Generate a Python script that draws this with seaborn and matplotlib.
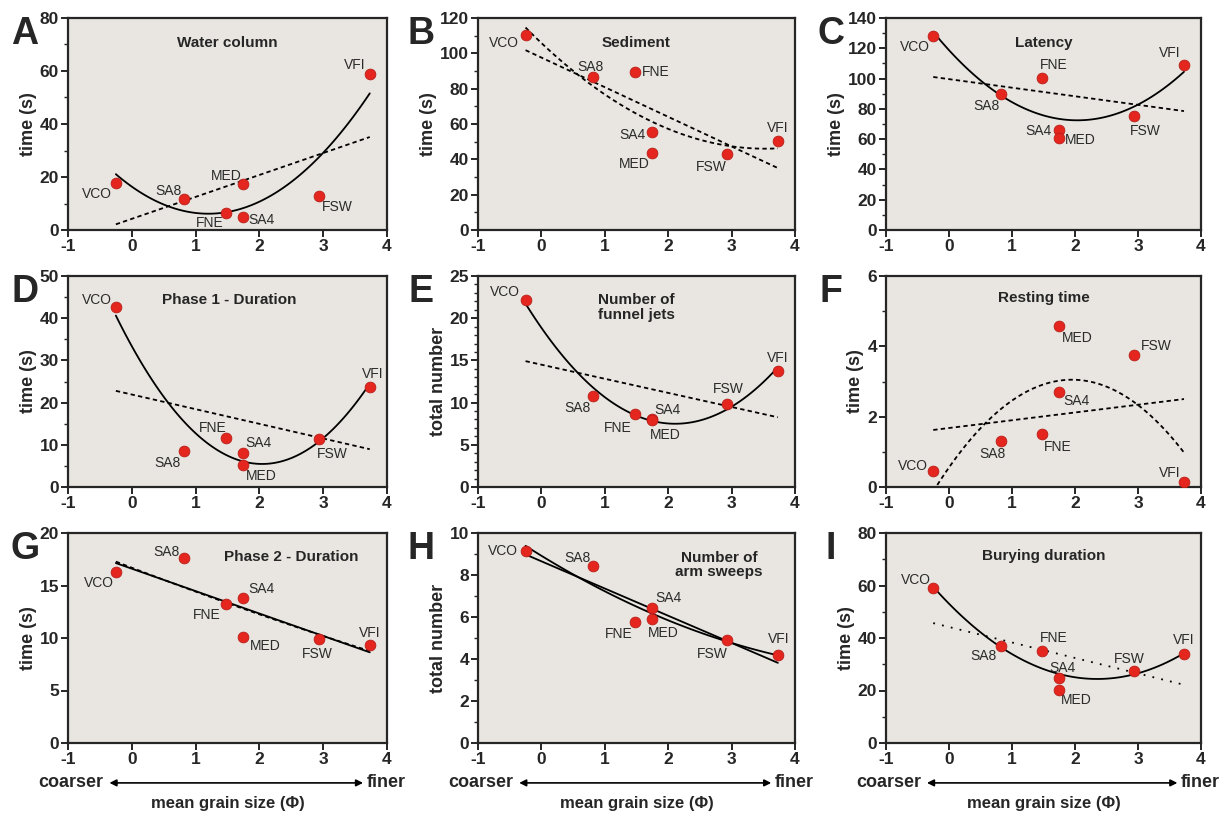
import numpy as np
import matplotlib
matplotlib.use('Agg')
from matplotlib import pyplot as plt
from matplotlib.ticker import MultipleLocator, NullLocator
import seaborn as sns

# sediment types and their mean grain size (phi)
sites = ['VCO', 'SA8', 'FNE', 'SA4', 'MED', 'FSW', 'VFI']
grain = [-0.25, 0.82, 1.47, 1.74, 1.74, 2.93, 3.73]

water_column = [17.8, 11.8, 6.3, 5.0, 17.4, 13.0, 59.0]
sediment = [110.5, 86.5, 89.5, 55.5, 43.5, 43.0, 50.5]
latency = [128.0, 89.5, 100.5, 66.0, 60.5, 75.0, 109.0]
phase1 = [42.7, 8.6, 11.7, 8.1, 5.1, 11.3, 23.6]
funnel_jets = [22.1, 10.8, 8.7, 8.0, 7.9, 9.8, 13.8]
resting = [0.45, 1.3, 1.5, 2.7, 4.58, 3.75, 0.15]
phase2 = [16.3, 17.6, 13.2, 13.8, 10.1, 9.9, 9.3]
arm_sweeps = [9.15, 8.42, 5.75, 6.42, 5.92, 4.92, 4.2]
burying = [59.0, 37.0, 35.0, 24.8, 20.2, 27.5, 34.0]

letters = ['A', 'B', 'C', 'D', 'E', 'F', 'G', 'H', 'I']
titles = ['Water column', 'Sediment', 'Latency', 'Phase 1 - Duration',
          'Number of\nfunnel jets', 'Resting time', 'Phase 2 - Duration',
          'Number of\narm sweeps', 'Burying duration']
ylabels = ['time (s)', 'time (s)', 'time (s)', 'time (s)', 'total number',
           'time (s)', 'time (s)', 'total number', 'time (s)']
values = [water_column, sediment, latency, phase1, funnel_jets,
          resting, phase2, arm_sweeps, burying]

# layout / style per panel
ymax = [80, 120, 140, 50, 25, 6, 20, 10, 80]
ymaj = [20, 20, 20, 10, 5, 2, 5, 2, 20]
ymin = [10, 10, 10, 5, 1, 1, None, 1, 10]
title_pos = [(0.5, 0.88), (0.5, 0.88), (0.5, 0.88), (0.505, 0.886), (0.5, 0.85),
             (0.5, 0.895), (0.70, 0.886), (0.76, 0.848), (0.5, 0.89)]
DASH = (0, (2.4, 1.8))
DOT = (0, (1.0, 4.0))
# (quadratic style, linear style)
fit_styles = [('-', DASH), (DASH, DASH), ('-', DASH), ('-', DASH), ('-', DASH),
              (DASH, DASH), (DASH, '-'), ('-', '-'), ('-', DOT)]
# label offsets in pixels (dx, dy up) per panel, per site
offsets = [
    [(-19, -11), (-16, 8), (-16, -10), (19, -3), (-17, 8), (19, -11), (-15, 9)],
    [(-22, -8), (-3, 10), (21, 0), (-19, -3), (-17, -11), (-16, -13), (0, 13)],
    [(-18, -11), (-14, -12), (12, 13), (-20, -1), (22, -2), (12, -15), (-14, 12)],
    [(-19, 7), (-17, -12), (-13, 10), (16, 10), (18, -11), (14, -15), (3, 13)],
    [(-21, 8), (-16, -12), (-17, -14), (16, 9), (14, -15), (1, 15), (0, 13)],
    [(-20, 5), (-8, -13), (16, -13), (18, -9), (19, -12), (23, 9), (-14, 9)],
    [(-17, -11), (-18, 6), (-19, -11), (19, 9), (22, -9), (-1, -15), (0, 12)],
    [(-23, 0), (-16, 8), (-16, -12), (17, 10), (12, -14), (-15, -14), (1, 16)],
    [(-17, 8), (-17, -10), (12, 13), (4, 10), (18, -10), (-4, 12), (0, 14)],
]

W, H = 1231, 814
DPI = 100
col_left = [68, 478, 886]
col_width = [319, 317, 315]
row_top = [18, 276, 533]
row_bottom = [230, 487, 743]
letter_x = [25, 421, 831]

sns.set_style('ticks')
plt.rcParams['font.family'] = ['Liberation Sans', 'DejaVu Sans']
plt.rcParams['font.weight'] = 'bold'
plt.rcParams['axes.linewidth'] = 1.6
plt.rcParams['axes.unicode_minus'] = False

fig = plt.figure(figsize=(W / DPI, H / DPI), dpi=DPI)
px = 72 / DPI

for i in range(9):
    r, c = divmod(i, 3)
    rect = [col_left[c] / W, 1 - row_bottom[r] / H,
            col_width[c] / W, (row_bottom[r] - row_top[r]) / H]
    ax = fig.add_axes(rect)
    ax.set_facecolor('#e9e6e1')
    y = values[i]

    q_ls, l_ls = fit_styles[i]
    sns.regplot(x=np.array(grain), y=np.array(y), order=2, ci=None, scatter=False,
                truncate=True, ax=ax, line_kws=dict(color='black', lw=1.3, ls=q_ls))
    sns.regplot(x=np.array(grain), y=np.array(y), order=1, ci=None, scatter=False,
                truncate=True, ax=ax, line_kws=dict(color='black', lw=1.3, ls=l_ls))
    sns.scatterplot(x=grain, y=y, ax=ax, s=60, color='#e5261f',
                    edgecolor='#b81e18', linewidth=0.6, zorder=5)

    for k, name in enumerate(sites):
        dx, dy = offsets[i][k]
        ax.annotate(name, (grain[k], y[k]), xytext=(dx * px, dy * px),
                    textcoords='offset points', ha='center', va='center',
                    fontsize=10, fontweight='normal', color='#2b2b2b')

    ax.text(title_pos[i][0], title_pos[i][1], titles[i], transform=ax.transAxes,
            ha='center', va='center', fontsize=11, fontweight='bold',
            linespacing=1.05)

    ax.set_xlim(-1, 4)
    ax.set_ylim(0, ymax[i])
    ax.xaxis.set_major_locator(MultipleLocator(1))
    ax.yaxis.set_major_locator(MultipleLocator(ymaj[i]))
    if ymin[i]:
        ax.yaxis.set_minor_locator(MultipleLocator(ymin[i]))
    else:
        ax.yaxis.set_minor_locator(NullLocator())
    ax.tick_params(which='major', direction='out', length=5, width=1.4,
                   labelsize=12.5, pad=1.5)
    ax.tick_params(which='minor', direction='out', length=3, width=1.0)
    for lab in ax.get_xticklabels() + ax.get_yticklabels():
        lab.set_fontweight('bold')
    ax.set_xlabel('')
    ax.set_ylabel(ylabels[i], fontsize=13, fontweight='bold', labelpad=2)
    for sp in ax.spines.values():
        sp.set_visible(True)
        sp.set_linewidth(1.6)

    fig.text(letter_x[c] / W, 1 - (row_top[r] + 26) / H, letters[i],
             fontsize=27, fontweight='bold', ha='center', va='baseline')

    if r == 2:
        ax.annotate('', xy=(0.925, -0.19), xytext=(0.13, -0.19),
                    xycoords='axes fraction', textcoords='axes fraction',
                    arrowprops=dict(arrowstyle='<|-|>', color='black', lw=1.2,
                                    mutation_scale=10, shrinkA=0, shrinkB=0))
        ax.text(0.112, -0.19, 'coarser', transform=ax.transAxes, ha='right',
                va='center', fontsize=13, fontweight='bold')
        ax.text(0.937, -0.19, 'finer', transform=ax.transAxes, ha='left',
                va='center', fontsize=13, fontweight='bold')
        ax.text(0.5, -0.29, 'mean grain size (\u03a6)', transform=ax.transAxes,
                ha='center', va='center', fontsize=12, fontweight='bold')

fig.savefig('out.png', dpi=DPI, facecolor='white')
